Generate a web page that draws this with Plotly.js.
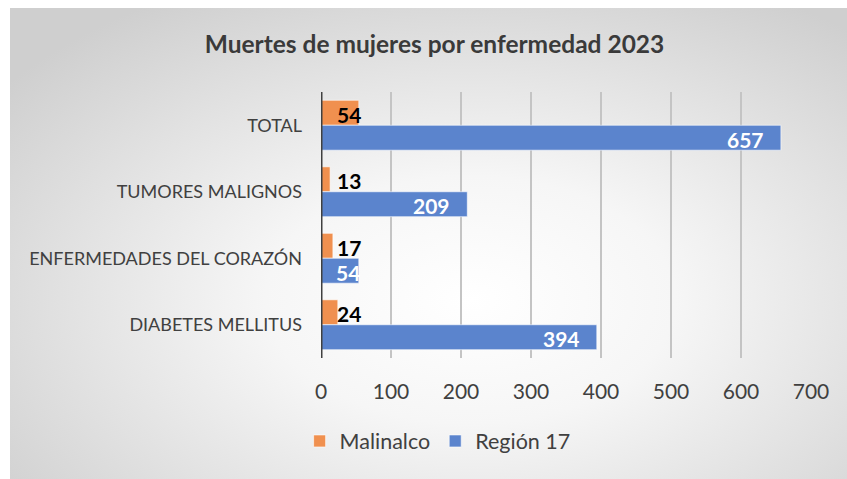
<!DOCTYPE html>
<html><head><meta charset="utf-8">
<script src="https://cdn.plot.ly/plotly-3.0.1.min.js"></script>
<style>
html,body{margin:0;padding:0;background:#fff;width:847px;height:479px;overflow:hidden;}
#bg{position:absolute;left:10px;top:8px;width:837px;height:471px;
background:radial-gradient(ellipse 70% 75% at 55% 62%, #ffffff 0%, #f6f6f6 35%, #cfcfcf 100%);}
#chart{position:absolute;left:0;top:0;width:847px;height:479px;}
</style></head>
<body><div id="bg"></div><div id="chart"></div>
<script>
const categories = ["TOTAL", "TUMORES MALIGNOS", "ENFERMEDADES DEL CORAZÓN", "DIABETES MELLITUS"];
const malinalco = [54, 13, 17, 24];
const region17 = [657, 209, 54, 394];
const seriesNames = ["Malinalco", "Región 17"];
const xTicks = [0, 100, 200, 300, 400, 500, 600, 700];

const FONT = "Lato, 'Open Sans', sans-serif";
const traces = [
  {type:'bar', orientation:'h', name:seriesNames[0], y:categories, x:malinalco,
   marker:{color:'#F0904F', line:{color:'rgba(255,255,255,0.6)', width:1}}, hoverinfo:'x'},
  {type:'bar', orientation:'h', name:seriesNames[1], y:categories, x:region17,
   marker:{color:'#5B84CD', line:{color:'rgba(255,255,255,0.6)', width:1}}, hoverinfo:'x'}
];
const annotations = [];
categories.forEach((c,i)=>{
  annotations.push({x:0, y:c, xref:'x', yref:'y', text:'<b>'+malinalco[i]+'</b>', showarrow:false,
    xanchor:'left', xshift:14, yshift:11, font:{family:FONT, size:21, color:'#000'}});
  annotations.push({x:region17[i], y:c, xref:'x', yref:'y', text:'<b>'+region17[i]+'</b>', showarrow:false,
    xanchor:'right', xshift: region17[i] < 100 ? 3 : -15, yshift:-14, font:{family:FONT, size:21, color:'#fff'}});
});
const layout = {
  width:847, height:479,
  paper_bgcolor:'rgba(0,0,0,0)', plot_bgcolor:'rgba(0,0,0,0)',
  margin:{l:321, r:36, t:92, b:121},
  barmode:'group', bargap:0.25, bargroupgap:0,
  title:{text:'<b>Muertes de mujeres por enfermedad 2023</b>', x:0.513, xanchor:'center',
    y:1-44/479, yanchor:'middle', yref:'container', font:{family:FONT, size:24.5, color:'#3a3a3a'}},
  xaxis:{range:[0,700], tickvals:xTicks, ticktext:xTicks.map(String), showgrid:true, gridcolor:'#c4c4c4', gridwidth:1.5,
    zeroline:false, showline:false, ticks:'', ticklabelstandoff:19, tickfont:{family:FONT, size:21, color:'#404040'}, fixedrange:true},
  yaxis:{autorange:'reversed', type:'category', showgrid:false, zeroline:false, showline:false,
    ticks:'', ticklabelstandoff:18, tickfont:{family:FONT, size:18, color:'#404040'}, fixedrange:true},
  shapes:[{type:'line', xref:'x', yref:'paper', x0:0, x1:0, y0:0, y1:1, line:{color:'#404040', width:3}}],
  legend:{orientation:'h', x:0.238, xanchor:'center', y:-0.312, yanchor:'middle',
    font:{family:FONT, size:21.5, color:'#404040'}, itemwidth:30, traceorder:'normal'},
  annotations:annotations,
  showlegend:true
};
Plotly.newPlot('chart', traces, layout, {displayModeBar:false, staticPlot:true});
</script></body></html>
